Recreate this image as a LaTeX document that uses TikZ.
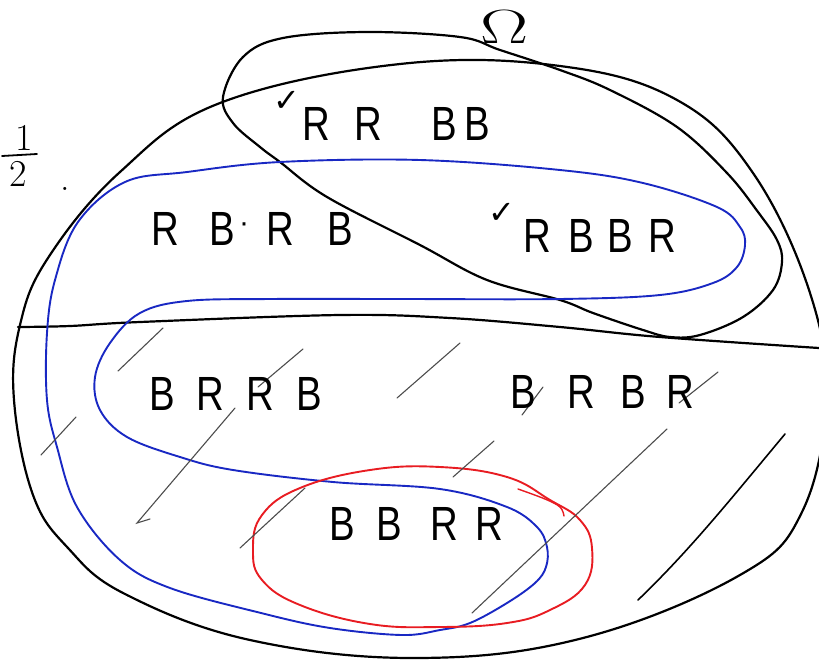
\documentclass[tikz,border=0pt]{standalone}
\usepackage{fontspec}
\usepackage{graphicx}
\setmainfont{Liberation Sans}
\newfontfamily\symfont{DejaVu Sans}
\newfontfamily\lmfont{Latin Modern Roman}
\definecolor{penblue}{RGB}{25,40,195}
\definecolor{penred}{RGB}{232,28,34}
\newcommand\hw[1]{\scalebox{0.8}[1]{#1}}
\begin{document}
\begin{tikzpicture}[x=1pt,y=-1pt,
  ink/.style={line width=2.2pt, line cap=round, line join=round, black},
  blueink/.style={line width=1.9pt, line join=round, penblue},
  redink/.style={line width=1.9pt, line cap=round, line join=round, penred},
  hatch/.style={line width=1.1pt, black!70, line cap=round},
  hatchdark/.style={line width=1.6pt, black, line cap=round},
  letter/.style={anchor=base, inner sep=0pt, font=\fontsize{48}{48}\selectfont},
  tick/.style={inner sep=0pt, font=\symfont\fontsize{32}{32}\selectfont},
  hand/.style={anchor=base, inner sep=0pt, font=\lmfont\fontsize{38}{38}\selectfont}]
\useasboundingbox (0,0) rectangle (819,662);
\clip (0,0) rectangle (819,662);

% outer set
\draw[ink] plot[smooth cycle, tension=0.65] coordinates {
 (14,400) (20,325) (48,258) (120,172) (220,103) (400,64) (560,66)
 (677,100) (753,173) (810,293) (826,400) (802,512) (740,575) (583,638)
 (418,658) (250,640) (125,594) (68,548) (33,495)};

% tilted ellipse (Omega set)
\draw[ink] plot[smooth cycle, tension=0.6] coordinates {
 (223,97) (243,57) (283,38) (367,32) (460,37) (500,50) (560,70) (610,90)
 (677,127) (727,173) (758,212) (777,240) (782,262) (773,290) (743,317)
 (700,335) (670,337) (643,330) (593,313) (560,300) (487,280) (420,245)
 (327,197) (280,162) (260,147) (233,123)};

% horizontal divider
\draw[ink] plot[smooth, tension=0.6] coordinates {
 (18,327) (70,326) (140,322) (340,315) (450,318) (560,327) (660,337) (819,348)};

% blue snake
\draw[blueink] plot[smooth cycle, tension=0.6] coordinates {
 (125,182) (187,172) (280,162) (420,160) (560,170) (643,183) (717,207)
 (740,227) (745,245) (737,267) (713,283) (660,295) (560,299) (400,299)
 (270,299) (187,301) (140,313) (110,343) (95,377) (100,410) (127,437)
 (180,457) (233,470) (333,482) (440,489) (507,507) (537,527) (547,547)
 (546,567) (535,583) (507,603) (470,623) (440,630) (402,635) (330,628)
 (261,613) (170,588) (120,560) (77,507) (57,447) (47,400) (47,333)
 (55,280) (78,222)};

% red loop
\draw[redink] plot[smooth cycle, tension=0.7] coordinates {
 (440,467) (507,477) (550,500) (580,520) (592,548) (585,585) (550,610)
 (507,623) (440,627) (370,624) (300,605) (262,580) (253,550) (262,515)
 (300,488) (370,470)};
\draw[redink, line width=1.4pt] plot[smooth, tension=0.6] coordinates {
 (518,489) (545,499) (560,507) (564,516)};

% hatching
\draw[hatch] (163,328) -- (118,371);
\draw[hatch] (303,349) -- (258,387);
\draw[hatch] (235,408) -- (137,523) -- (150,519);
\draw[hatch] (76,417) -- (41,455);
\draw[hatch] (305,488) -- (240,548);
\draw[hatch] (460,343) -- (397,398);
\draw[hatch] (543,387) -- (522,415);
\draw[hatch] (718,372) -- (679,403);
\draw[hatch] (494,441) -- (453,477);
\draw[hatch] (667,429) -- (472,613);
\draw[hatchdark] (785,434) .. controls (730,500) and (690,550) .. (638,600);

% labels
\node[inner sep=0pt, anchor=base] (omega) at (505,43)
  {\lmfont\fontsize{48}{48}\selectfont\scalebox{1.5}[1]{Ω}};
\node[hand] (one) at (24,150) {1};
\node[hand] (two) at (18,186) {2};
\draw[line width=1.8pt, line cap=round] (2,156) -- (37,154);
\node[hand] (halfdot) at (65,190) {.};

\node[tick] (tk1) at (287,101) {✓};
\node[tick] (tk2) at (502,213) {✓};

% RR BB
\node[letter] (a1) at (316,140) {\hw{R}};
\node[letter] (a2) at (368,140) {\hw{R}};
\node[letter] (a3) at (444,140) {\hw{B}};
\node[letter] (a4) at (477,140) {\hw{B}};
% R B . R B
\node[letter] (b1) at (165,245) {\hw{R}};
\node[letter] (b2) at (222,245) {\hw{B}};
\node[letter, font=\fontsize{30}{30}\selectfont] (bdot) at (244,232) {·};
\node[letter] (b3) at (280,245) {\hw{R}};
\node[letter] (b4) at (340,245) {\hw{B}};
% RBBR
\node[letter] (c1) at (537,252) {\hw{R}};
\node[letter] (c2) at (581,252) {\hw{B}};
\node[letter] (c3) at (620,252) {\hw{B}};
\node[letter] (c4) at (662,252) {\hw{R}};
% BRRB
\node[letter] (d1) at (162,410) {\hw{B}};
\node[letter] (d2) at (210,410) {\hw{R}};
\node[letter] (d3) at (260,410) {\hw{R}};
\node[letter] (d4) at (309,410) {\hw{B}};
% BRBR
\node[letter] (e1) at (523,408) {\hw{B}};
\node[letter] (e2) at (581,408) {\hw{R}};
\node[letter] (e3) at (633,408) {\hw{B}};
\node[letter] (e4) at (680,408) {\hw{R}};
% BBRR
\node[letter] (f1) at (342,540) {\hw{B}};
\node[letter] (f2) at (389,540) {\hw{B}};
\node[letter] (f3) at (444,540) {\hw{R}};
\node[letter] (f4) at (489,540) {\hw{R}};
\end{tikzpicture}
\end{document}
